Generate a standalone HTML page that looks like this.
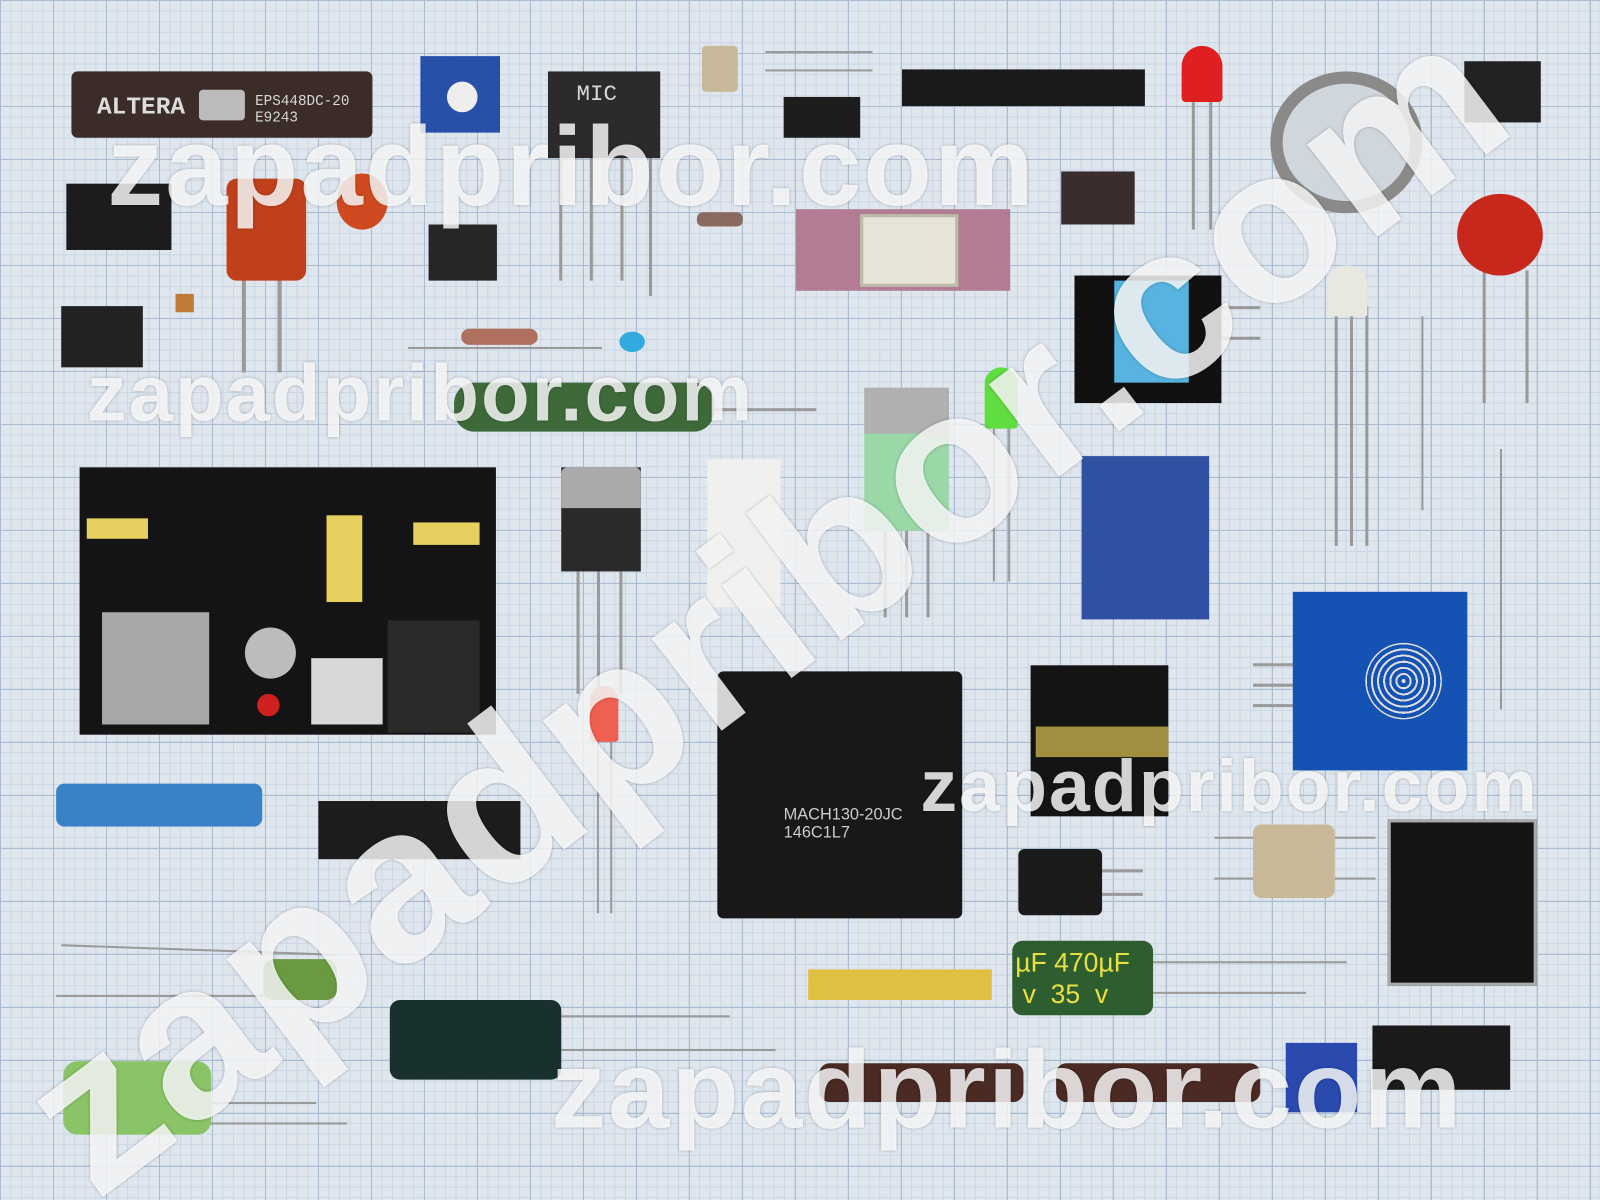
<!DOCTYPE html>
<html><head><meta charset="utf-8"><style>
html,body{margin:0;padding:0;width:1600px;height:1200px;overflow:hidden}
body{background-color:#dfe6ee;
background-image:
linear-gradient(#a9bcd2 1px,transparent 1px),
linear-gradient(90deg,#a9bcd2 1px,transparent 1px),
linear-gradient(#c9d6e4 1px,transparent 1px),
linear-gradient(90deg,#c9d6e4 1px,transparent 1px);
background-size:53px 53px,53px 53px,10.6px 10.6px,10.6px 10.6px;
font-family:"Liberation Sans",sans-serif}
#clip{position:absolute;left:0;top:0;width:1600px;height:1200px;overflow:hidden}
#wrap{position:absolute;left:0;top:0;width:1568px;height:1176px;transform:scale(1.0204);transform-origin:0 0}
.c{position:absolute}
.l{position:absolute;background:#9a9a9a}
.t{position:absolute;color:#d8d8d8;font-size:14px;font-family:"Liberation Mono",monospace}
.w{position:absolute;color:rgba(255,255,255,0.82);font-weight:bold;white-space:nowrap;letter-spacing:2px;
text-shadow:0 0 3px rgba(0,0,0,0.25)}
</style></head><body><div id="clip"><div id="wrap">
<!-- leads -->
<div class="l" style="left:548px;top:150px;width:3px;height:125px"></div>
<div class="l" style="left:578px;top:150px;width:3px;height:125px"></div>
<div class="l" style="left:608px;top:150px;width:3px;height:125px"></div>
<div class="l" style="left:636px;top:150px;width:3px;height:140px"></div>
<div class="l" style="left:237px;top:270px;width:4px;height:95px"></div>
<div class="l" style="left:272px;top:270px;width:4px;height:95px"></div>
<div class="l" style="left:1185px;top:95px;width:3px;height:130px"></div>
<div class="l" style="left:1168px;top:95px;width:3px;height:130px"></div>
<div class="l" style="left:1453px;top:265px;width:3px;height:130px"></div>
<div class="l" style="left:1495px;top:265px;width:3px;height:130px"></div>
<div class="l" style="left:1308px;top:300px;width:3px;height:235px"></div>
<div class="l" style="left:1323px;top:300px;width:3px;height:235px"></div>
<div class="l" style="left:1338px;top:300px;width:3px;height:235px"></div>
<div class="l" style="left:1470px;top:440px;width:2px;height:255px"></div>
<div class="l" style="left:1393px;top:310px;width:2px;height:190px"></div>
<div class="l" style="left:565px;top:560px;width:3px;height:120px"></div>
<div class="l" style="left:585px;top:560px;width:3px;height:120px"></div>
<div class="l" style="left:607px;top:560px;width:3px;height:120px"></div>
<div class="l" style="left:866px;top:520px;width:3px;height:85px"></div>
<div class="l" style="left:887px;top:520px;width:3px;height:85px"></div>
<div class="l" style="left:908px;top:520px;width:3px;height:85px"></div>
<div class="l" style="left:973px;top:410px;width:2px;height:160px"></div>
<div class="l" style="left:988px;top:410px;width:2px;height:160px"></div>
<div class="l" style="left:585px;top:720px;width:2px;height:175px"></div>
<div class="l" style="left:598px;top:720px;width:2px;height:175px"></div>
<div class="l" style="left:400px;top:340px;width:190px;height:2px"></div>
<div class="l" style="left:600px;top:400px;width:200px;height:3px"></div>
<div class="l" style="left:60px;top:930px;width:270px;height:2px;transform:rotate(2deg)"></div>
<div class="l" style="left:55px;top:975px;width:270px;height:2px"></div>
<div class="l" style="left:540px;top:995px;width:175px;height:2px"></div>
<div class="l" style="left:540px;top:1028px;width:220px;height:2px"></div>
<div class="l" style="left:1120px;top:942px;width:200px;height:2px"></div>
<div class="l" style="left:1120px;top:972px;width:160px;height:2px"></div>
<div class="l" style="left:200px;top:1080px;width:110px;height:2px"></div>
<div class="l" style="left:200px;top:1100px;width:140px;height:2px"></div>
<div class="l" style="left:750px;top:50px;width:105px;height:2px"></div>
<div class="l" style="left:750px;top:68px;width:105px;height:2px"></div>
<div class="l" style="left:1080px;top:852px;width:40px;height:3px"></div>
<div class="l" style="left:1080px;top:875px;width:40px;height:3px"></div>
<div class="l" style="left:1190px;top:820px;width:40px;height:2px"></div>
<div class="l" style="left:1308px;top:820px;width:40px;height:2px"></div>
<div class="l" style="left:1190px;top:860px;width:40px;height:2px"></div>
<div class="l" style="left:1308px;top:860px;width:40px;height:2px"></div>
<div class="l" style="left:1228px;top:650px;width:40px;height:3px"></div>
<div class="l" style="left:1228px;top:670px;width:40px;height:3px"></div>
<div class="l" style="left:1228px;top:690px;width:40px;height:3px"></div>
<div class="l" style="left:1195px;top:300px;width:40px;height:3px"></div>
<div class="l" style="left:1195px;top:330px;width:40px;height:3px"></div>

<!-- components -->
<div class="c" style="left:70px;top:70px;width:295px;height:65px;background:#3b2c27;border-radius:6px"></div>
<div class="t" style="left:95px;top:92px;font-size:24px;font-weight:bold;color:#ddd">ALTERA</div>
<div class="c" style="left:195px;top:88px;width:45px;height:30px;background:#bbb;border-radius:4px"></div>
<div class="t" style="left:250px;top:92px">EPS448DC-20<br>E9243</div>
<div class="c" style="left:412px;top:55px;width:78px;height:75px;background:#2850a8"></div>
<div class="c" style="left:438px;top:80px;width:30px;height:30px;background:#eee;border-radius:50%"></div>
<div class="c" style="left:537px;top:70px;width:110px;height:85px;background:#2c2a2a"></div>
<div class="t" style="left:565px;top:80px;font-size:22px">MIC</div>
<div class="c" style="left:688px;top:45px;width:35px;height:45px;background:#c8b89a;border-radius:4px"></div>
<div class="c" style="left:768px;top:95px;width:75px;height:40px;background:#1d1d1d"></div>
<div class="c" style="left:884px;top:68px;width:238px;height:36px;background:#1a1a1a"></div>
<div class="c" style="left:1158px;top:45px;width:40px;height:55px;background:#e02020;border-radius:20px 20px 4px 4px"></div>
<div class="c" style="left:1245px;top:70px;width:125px;height:115px;border:12px solid #8a8a88;border-radius:50%;background:#cfd6dc"></div>
<div class="c" style="left:1435px;top:60px;width:75px;height:60px;background:#222"></div>
<div class="c" style="left:65px;top:180px;width:103px;height:65px;background:#1c1c1c"></div>
<div class="c" style="left:222px;top:175px;width:78px;height:100px;background:#c0401c;border-radius:10px"></div>
<div class="c" style="left:330px;top:170px;width:50px;height:55px;background:#cf4a20;border-radius:50%"></div>
<div class="c" style="left:420px;top:220px;width:67px;height:55px;background:#262626"></div>
<div class="c" style="left:683px;top:208px;width:45px;height:14px;background:#8a6a60;border-radius:6px"></div>
<div class="c" style="left:780px;top:205px;width:210px;height:80px;background:#b27d94"></div>
<div class="c" style="left:843px;top:210px;width:90px;height:65px;background:#e8e4d8;border:3px solid #bba"></div>
<div class="c" style="left:1040px;top:168px;width:72px;height:52px;background:#3a2d2d"></div>
<div class="c" style="left:60px;top:300px;width:80px;height:60px;background:#222"></div>
<div class="c" style="left:172px;top:288px;width:18px;height:18px;background:#c07a3a"></div>
<div class="c" style="left:452px;top:322px;width:75px;height:16px;background:#b07060;border-radius:8px"></div>
<div class="c" style="left:607px;top:325px;width:25px;height:20px;background:#33aadd;border-radius:50%"></div>
<div class="c" style="left:1053px;top:270px;width:144px;height:125px;background:#111"></div>
<div class="c" style="left:1092px;top:275px;width:73px;height:100px;background:#58b3e0"></div>
<div class="c" style="left:1428px;top:190px;width:84px;height:80px;background:#c8281c;border-radius:50%"></div>
<div class="c" style="left:1300px;top:260px;width:40px;height:50px;background:#e8e8e0;border-radius:20px 20px 2px 2px"></div>
<div class="c" style="left:445px;top:375px;width:255px;height:48px;background:#3e6a3a;border-radius:20px"></div>
<div class="c" style="left:78px;top:458px;width:408px;height:262px;background:#141414"></div>
<div class="c" style="left:100px;top:600px;width:105px;height:110px;background:#a8a8a8"></div>
<div class="c" style="left:305px;top:645px;width:70px;height:65px;background:#d8d8d8"></div>
<div class="c" style="left:240px;top:615px;width:50px;height:50px;background:#bcbcbc;border-radius:50%"></div>
<div class="c" style="left:380px;top:608px;width:90px;height:110px;background:#2a2a2a"></div>
<div class="c" style="left:320px;top:505px;width:35px;height:85px;background:#e8d060"></div>
<div class="c" style="left:85px;top:508px;width:60px;height:20px;background:#e8d060"></div>
<div class="c" style="left:405px;top:512px;width:65px;height:22px;background:#e8d060"></div>
<div class="c" style="left:252px;top:680px;width:22px;height:22px;background:#d02020;border-radius:50%"></div>
<div class="c" style="left:550px;top:458px;width:78px;height:102px;background:#2a2a2a"></div>
<div class="c" style="left:550px;top:458px;width:78px;height:40px;background:#aaa;border-radius:6px 6px 0 0"></div>
<div class="c" style="left:693px;top:450px;width:72px;height:145px;background:#f0f0ee"></div>
<div class="c" style="left:847px;top:380px;width:83px;height:140px;background:#9ad8a8"></div>
<div class="c" style="left:847px;top:380px;width:83px;height:45px;background:#b0b0b0"></div>
<div class="c" style="left:965px;top:360px;width:32px;height:60px;background:#60dd40;border-radius:16px 16px 3px 3px"></div>
<div class="c" style="left:1060px;top:447px;width:125px;height:160px;background:#3050a2"></div>
<div class="c" style="left:1267px;top:580px;width:171px;height:175px;background:#1452b4"></div>
<div class="c" style="left:1338px;top:630px;width:75px;height:75px;border-radius:50%;background:repeating-radial-gradient(#ddd 0 2px,#1452b4 2px 6px)"></div>
<div class="c" style="left:578px;top:672px;width:28px;height:55px;background:#f06050;border-radius:14px 14px 3px 3px"></div>
<div class="c" style="left:703px;top:658px;width:240px;height:242px;background:#181818;border-radius:6px"></div>
<div class="t" style="left:768px;top:790px;font-family:'Liberation Sans';font-size:16px;color:#ccc">MACH130-20JC<br>146C1L7</div>
<div class="c" style="left:1010px;top:652px;width:135px;height:148px;background:#141414"></div>
<div class="c" style="left:1015px;top:712px;width:130px;height:30px;background:#a09040"></div>
<div class="c" style="left:55px;top:768px;width:202px;height:42px;background:#3a82c6;border-radius:8px"></div>
<div class="c" style="left:312px;top:785px;width:198px;height:57px;background:#1c1c1c"></div>
<div class="c" style="left:998px;top:832px;width:82px;height:65px;background:#1a1a1a;border-radius:6px"></div>
<div class="c" style="left:1228px;top:808px;width:80px;height:72px;background:#c8b898;border-radius:8px"></div>
<div class="c" style="left:1360px;top:803px;width:140px;height:157px;background:#141414;border:3px solid #aaa"></div>
<div class="c" style="left:258px;top:940px;width:72px;height:40px;background:#6a9a40;border-radius:10px"></div>
<div class="c" style="left:382px;top:980px;width:168px;height:78px;background:#18302e;border-radius:10px"></div>
<div class="c" style="left:792px;top:950px;width:180px;height:30px;background:#e0c040"></div>
<div class="c" style="left:992px;top:922px;width:138px;height:73px;background:#2e5e30;border-radius:10px"></div>
<div class="t" style="left:995px;top:928px;font-family:'Liberation Sans';font-size:26px;color:#e8e040">µF 470µF<br>&nbsp;v&nbsp;&nbsp;35&nbsp;&nbsp;v</div>
<div class="c" style="left:803px;top:1042px;width:200px;height:38px;background:#4a2a22;border-radius:10px"></div>
<div class="c" style="left:1035px;top:1042px;width:200px;height:38px;background:#4a2a22;border-radius:10px"></div>
<div class="c" style="left:62px;top:1040px;width:145px;height:72px;background:#8ac466;border-radius:14px"></div>
<div class="c" style="left:1260px;top:1022px;width:70px;height:68px;background:#2a4ab0"></div>
<div class="c" style="left:1345px;top:1005px;width:135px;height:63px;background:#1a1a1a"></div>

<!-- watermarks -->
<div class="w" style="left:105px;top:100px;font-size:110px">zapadpribor.com</div>
<div class="w" style="left:85px;top:340px;font-size:78px">zapadpribor.com</div>
<div class="w" style="left:902px;top:730px;font-size:72px">zapadpribor.com</div>
<div class="w" style="left:540px;top:1005px;font-size:108px">zapadpribor.com</div>
<div class="w" style="font-size:215px;transform:rotate(-37deg);transform-origin:0 0;left:-25px;top:1020px">zapadpribor.com</div>
</div></div></body></html>
